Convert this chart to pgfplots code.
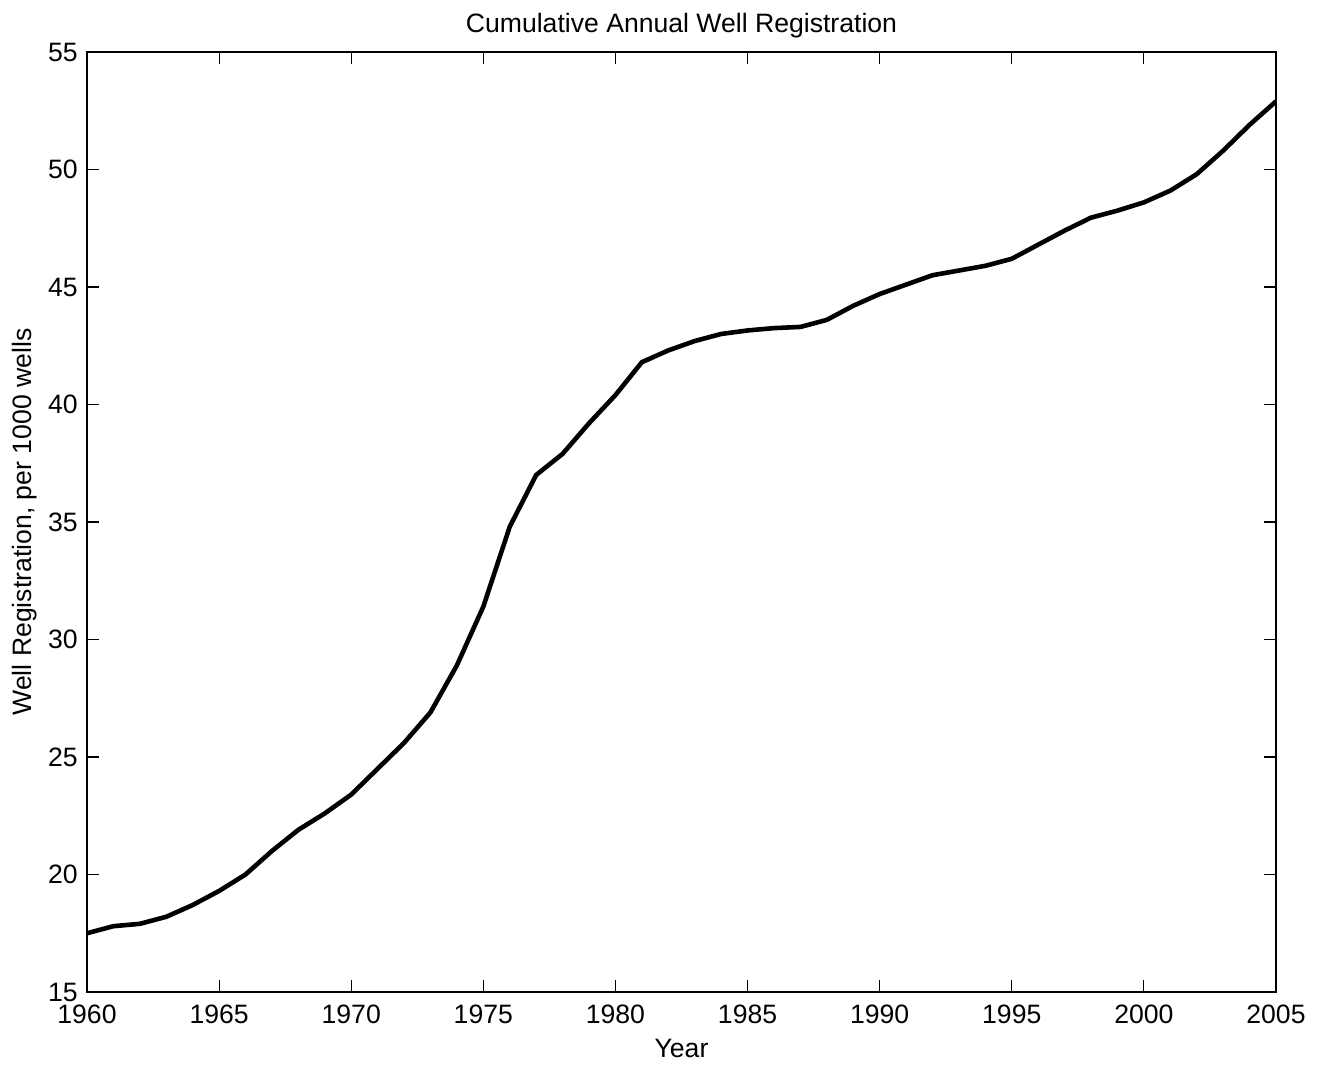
\documentclass[border=0pt]{standalone}
\usepackage{pgfplots}
\pgfplotsset{compat=1.18}
\usetikzlibrary{calc}
\usepackage{fontspec}
\setmainfont{Liberation Sans}
\begin{document}
\fontsize{13.3}{16}\selectfont
\begin{tikzpicture}
\begin{axis}[
  scale only axis,
  width=594.5pt, height=470pt,
  xmin=1960, xmax=2005, ymin=15, ymax=55,
  xtick={1960,1965,...,2005}, ytick={15,20,...,55},
  tick align=inside, major tick length=6pt,
  /pgf/number format/assume math mode=true,
  /pgf/number format/1000 sep={},
  xticklabel style={anchor=base, inner sep=0pt, yshift=-16pt},
  yticklabel style={anchor=east, inner sep=0pt, xshift=-4.5pt},
  title={Cumulative Annual Well Registration},
  title style={at={(axis description cs:0.5,1)}, anchor=base, inner sep=0pt, yshift=3.5pt},
  xlabel={Year},
  xlabel style={at={(axis description cs:0.5,0)}, anchor=base, inner sep=0pt, yshift=-33pt},
  ylabel={Well Registration, per 1000 wells},
  ylabel style={at={(axis description cs:0,0.5)}, anchor=base, inner sep=0pt, yshift=27.5pt},
  axis line style={line width=0.6pt},
  every tick/.style={black, line width=0.6pt},
]
\addplot[black, line width=2.3pt] coordinates {
(1960,17.5)(1961,17.8)(1962,17.9)(1963,18.2)(1964,18.7)(1965,19.3)
(1966,20.0)(1967,21.0)(1968,21.9)(1969,22.6)(1970,23.4)(1971,24.5)
(1972,25.6)(1973,26.9)(1974,28.9)(1975,31.4)(1976,34.8)(1977,37.0)
(1978,37.9)(1979,39.2)(1980,40.4)(1981,41.8)(1982,42.3)(1983,42.7)
(1984,43.0)(1985,43.15)(1986,43.25)(1987,43.3)(1988,43.6)(1989,44.2)
(1990,44.7)(1991,45.1)(1992,45.5)(1993,45.7)(1994,45.9)(1995,46.2)
(1996,46.8)(1997,47.4)(1998,47.95)(1999,48.25)(2000,48.6)(2001,49.1)
(2002,49.8)(2003,50.8)(2004,51.9)(2005,52.9)
};
\end{axis}
\pgfresetboundingbox
\path[use as bounding box] ($(current axis.south west)+(-43.5pt,-37pt)$) rectangle ($(current axis.north east)+(25.5pt,26pt)$);
\end{tikzpicture}
\end{document}
